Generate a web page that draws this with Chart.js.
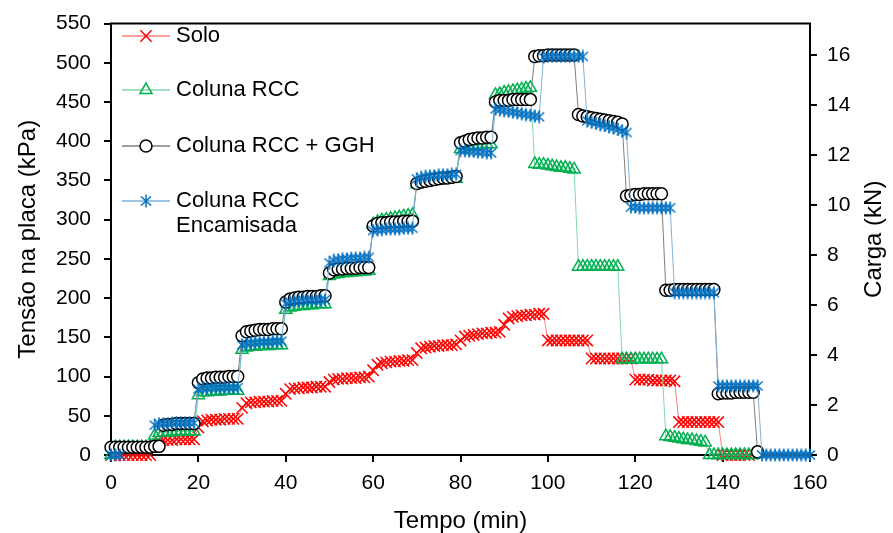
<!DOCTYPE html>
<html>
<head>
<meta charset="utf-8">
<title>Tensão na placa x Tempo</title>
<script src="https://cdn.jsdelivr.net/npm/chart.js@4.4.1/dist/chart.umd.min.js"></script>
<style>
  html, body { margin: 0; padding: 0; background: #fff; }
  canvas { display: block; }
</style>
</head>
<body>
<canvas id="chart" width="893" height="533"></canvas>
<script>
// time of each reading (min)
const minutes = [
  0, 1, 2, 3, 4, 5, 6, 7, 8, 9, 10, 11, 12, 13, 14, 15, 16, 17, 18, 19,
  20, 21, 22, 23, 24, 25, 26, 27, 28, 29, 30, 31, 32, 33, 34, 35, 36, 37, 38, 39,
  40, 41, 42, 43, 44, 45, 46, 47, 48, 49, 50, 51, 52, 53, 54, 55, 56, 57, 58, 59,
  60, 61, 62, 63, 64, 65, 66, 67, 68, 69, 70, 71, 72, 73, 74, 75, 76, 77, 78, 79,
  80, 81, 82, 83, 84, 85, 86, 87, 88, 89, 90, 91, 92, 93, 94, 95, 96, 97, 98, 99,
  100, 101, 102, 103, 104, 105, 106, 107, 108, 109, 110, 111, 112, 113, 114, 115, 116, 117, 118, 119,
  120, 121, 122, 123, 124, 125, 126, 127, 128, 129, 130, 131, 132, 133, 134, 135, 136, 137, 138, 139,
  140, 141, 142, 143, 144, 145, 146, 147, 148, 149, 150, 151, 152, 153, 154, 155, 156, 157, 158, 159,
  160
];

// plate stress (kPa), one value per minute starting at t = 0
const solo = [
  0, 0, 0, 0, 0, 0, 0, 0, 0, 0,
  12, 18, 19, 19, 19, 20, 20, 20, 20, 20,
  35, 43, 44, 45, 45, 45, 46, 46, 46, 46,
  60, 66, 67, 67, 68, 68, 68, 69, 69, 69,
  78, 84, 85, 85, 86, 86, 86, 87, 87, 87,
  93, 96, 97, 97, 98, 98, 98, 99, 99, 100,
  108, 115, 117, 118, 119, 119, 120, 120, 121, 121,
  130, 136, 137, 138, 139, 139, 140, 140, 140, 141,
  146, 151, 152, 153, 154, 155, 155, 156, 156, 157,
  166, 174, 176, 177, 178, 178, 179, 179, 180, 180,
  146, 146, 146, 146, 146, 146, 146, 146, 146, 146,
  123, 123, 123, 123, 123, 123, 123, 123, 123, 123,
  96, 96, 96, 96, 95, 95, 95, 95, 95, 94,
  42, 42, 42, 42, 42, 42, 42, 42, 42, 42,
  0, 0, 0, 0, 0, 0, 0
];

const colunaRcc = [
  0, 10, 10, 10, 10, 10, 10, 10, 10, 10,
  25, 28, 29, 29, 29, 30, 30, 30, 30, 30,
  76, 80, 80, 81, 81, 81, 82, 82, 82, 82,
  134, 137, 138, 138, 139, 139, 139, 140, 140, 140,
  185, 188, 189, 190, 190, 191, 191, 192, 192, 192,
  228, 230, 231, 232, 232, 233, 233, 234, 234, 235,
  294, 297, 299, 300, 301, 302, 303, 304, 305, 306,
  345, 347, 348, 349, 350, 350, 351, 351, 352, 352,
  390, 392, 393, 394, 395, 395, 396, 396,
  459, 460, 462, 463, 464, 465, 466, 467, 468,
  371, 370, 370, 369, 368, 367, 366, 366, 365, 364,
  240, 240, 240, 240, 240, 240, 240, 240, 240, 240,
  122, 122, 122, 122, 122, 122, 122, 122, 122, 122,
  24, 23, 22, 21, 20, 19, 19, 18, 17, 16,
  0, 0, 0, 0, 0, 0, 0, 0, 0, 0, 0
];

const colunaGgh = [
  10, 10, 10, 10, 10, 10, 10, 10, 10, 10, 11, 11,
  38, 39, 39, 40, 40, 40, 40, 40,
  92, 97, 98, 98, 99, 99, 99, 100, 100, 100,
  152, 157, 158, 159, 160, 160, 160, 161, 161, 161,
  195, 199, 200, 201, 201, 202, 202, 202, 203, 203,
  232, 236, 237, 237, 238, 238, 238, 239, 239, 239,
  292, 295, 296, 296, 297, 297, 297, 298, 298, 298,
  346, 348, 349, 350, 351, 352, 353, 353, 354, 355,
  398, 400, 402, 403, 404, 404, 405, 405,
  450, 452, 452, 452, 453, 453, 453, 453, 453,
  508, 509, 509, 510, 510, 510, 510, 510, 510, 510,
  434, 432, 431, 430, 429, 428, 427, 426, 425, 424, 422,
  330, 331, 332, 332, 333, 333, 333, 333, 333,
  210, 210, 211, 211, 211, 211, 211, 211, 211, 211, 211, 211,
  78, 79, 79, 79, 80, 80, 80, 80, 80,
  4
];

// no readings logged between 3 and 9 min
const colunaEncamisada = [
  0, 0, 0, null, null, null, null, null, null, null,
  38, 40, 40, 40, 41, 41, 41, 41, 41, 41,
  84, 85, 85, 86, 86, 86, 86, 86, 86, 86,
  140, 142, 143, 143, 144, 144, 144, 145, 145, 145,
  193, 195, 196, 196, 197, 197, 197, 197, 198, 198,
  245, 248, 249, 250, 250, 251, 251, 251, 252, 252,
  286, 287, 287, 288, 288, 288, 288, 289, 289, 289,
  352, 354, 355, 356, 356, 357, 357, 357, 358, 358,
  388, 388, 387, 387, 386, 386, 385, 385,
  441, 440, 439, 438, 437, 436, 435, 434, 433, 432, 431,
  507, 508, 508, 508, 508, 508, 508, 508, 508, 508,
  426, 424, 423, 421, 420, 418, 417, 415, 413, 411,
  316, 316, 315, 315, 315, 315, 315, 315, 315, 315,
  207, 207, 207, 207, 207, 207, 207, 207, 207, 207,
  88, 88, 88, 88, 88, 88, 88, 88, 88, 88,
  0, 0, 0, 0, 0, 0, 0, 0, 0, 0, 0, 0
];

const xTicks = [0, 20, 40, 60, 80, 100, 120, 140, 160];
const stressTicks = [0, 50, 100, 150, 200, 250, 300, 350, 400, 450, 500, 550];
const loadTicks = [0, 2, 4, 6, 8, 10, 12, 14, 16];

// 0.20 m diameter plate: kN = kPa * area
const plateArea = Math.PI * 0.1 * 0.1;

const FONT = '"Liberation Sans", Arial, sans-serif';

function toPoints(values) {
  return values.map((v, i) => ({ x: minutes[i], y: v }));
}

// excel-like "*" marker: an x with a vertical bar
function asteriskMarker(color) {
  const c = document.createElement('canvas');
  c.width = 14; c.height = 14;
  const g = c.getContext('2d');
  g.strokeStyle = color;
  g.lineWidth = 1.5;
  g.beginPath();
  g.moveTo(2, 2.5); g.lineTo(12, 11.5);
  g.moveTo(12, 2.5); g.lineTo(2, 11.5);
  g.moveTo(7, 0.5); g.lineTo(7, 13.5);
  g.stroke();
  return c;
}

const legendY = [36, 90, 146, 201];

const framePlugin = {
  id: 'frame',
  beforeDatasetsDraw(chart) {
    const a = chart.chartArea, ctx = chart.ctx;
    ctx.save();
    ctx.strokeStyle = '#000';
    ctx.lineWidth = 2;
    ctx.strokeRect(a.left, a.top, a.right - a.left, a.bottom - a.top);
    ctx.restore();
  },
  afterDraw(chart) {
    const ctx = chart.ctx;
    // legend inside the plot
    chart.data.datasets.forEach((ds, i) => {
      const y = legendY[i];
      ctx.save();
      ctx.strokeStyle = ds.borderColor;
      ctx.lineWidth = 1.5;
      ctx.beginPath();
      ctx.moveTo(122, y);
      ctx.lineTo(170, y);
      ctx.stroke();
      ctx.strokeStyle = ds.pointBorderColor;
      ctx.fillStyle = ds.pointBackgroundColor;
      ctx.lineWidth = ds.pointBorderWidth;
      Chart.helpers.drawPoint(ctx, {
        pointStyle: ds.pointStyle, radius: ds.pointRadius, rotation: 0, borderWidth: ds.pointBorderWidth
      }, 146, y);
      ctx.fillStyle = '#000';
      ctx.font = '22px ' + FONT;
      ctx.textBaseline = 'middle';
      ctx.textAlign = 'left';
      ds.label.split('\n').forEach((line, k) => ctx.fillText(line, 176, y + k * 25));
      ctx.restore();
    });
    // right axis title reads bottom to top, like the left one
    const r = chart.scales.y2;
    ctx.save();
    ctx.translate(874, (r.top + r.bottom) / 2);
    ctx.rotate(-Math.PI / 2);
    ctx.fillStyle = '#000';
    ctx.font = '24px ' + FONT;
    ctx.textAlign = 'center';
    ctx.textBaseline = 'middle';
    ctx.fillText('Carga (kN)', 0, 0);
    ctx.restore();
  }
};

const tickGrid = {
  display: true,
  drawOnChartArea: false,
  drawTicks: true,
  tickLength: 7,
  lineWidth: 2,
  color: '#000'
};

new Chart(document.getElementById('chart'), {
  type: 'line',
  data: {
    datasets: [
      {
        label: 'Solo',
        data: toPoints(solo),
        borderColor: '#FF8080',
        borderWidth: 1,
        pointStyle: 'crossRot',
        pointRadius: 8,
        pointBorderWidth: 1.5,
        pointBorderColor: '#FF0000',
        pointBackgroundColor: '#FF0000',
        order: 4
      },
      {
        label: 'Coluna RCC',
        data: toPoints(colunaRcc),
        borderColor: '#80D8A8',
        borderWidth: 1,
        pointStyle: 'triangle',
        pointRadius: 7,
        pointBorderWidth: 1.5,
        pointBorderColor: '#00B050',
        pointBackgroundColor: 'rgba(0,0,0,0)',
        order: 3
      },
      {
        label: 'Coluna RCC + GGH',
        data: toPoints(colunaGgh),
        borderColor: '#808080',
        borderWidth: 1,
        pointStyle: 'circle',
        pointRadius: 6,
        pointBorderWidth: 1.5,
        pointBorderColor: '#000000',
        pointBackgroundColor: '#FFFFFF',
        order: 2
      },
      {
        label: 'Coluna RCC\nEncamisada',
        data: toPoints(colunaEncamisada),
        borderColor: '#7FB2DD',
        borderWidth: 1,
        pointStyle: asteriskMarker('#0070C0'),
        pointRadius: 7,
        pointBorderWidth: 1.5,
        pointBorderColor: '#0070C0',
        pointBackgroundColor: '#0070C0',
        order: 1
      }
    ]
  },
  options: {
    responsive: false,
    animation: false,
    devicePixelRatio: 1,
    clip: false,
    layout: { padding: { top: 22, left: 0, right: 0, bottom: 0 } },
    plugins: { legend: { display: false }, tooltip: { enabled: false } },
    elements: { line: { tension: 0 } },
    scales: {
      x: {
        type: 'linear',
        min: 0,
        max: 160,
        afterBuildTicks: s => { s.ticks = xTicks.map(v => ({ value: v })); },
        afterFit: s => { s.height = 78; },
        ticks: { font: { family: FONT, size: 21 }, color: '#000', padding: 9, maxRotation: 0 },
        grid: tickGrid,
        border: { display: true, color: '#000', width: 2 },
        title: { display: true, text: 'Tempo (min)', font: { family: FONT, size: 24, lineHeight: 1 }, color: '#000', padding: { top: 0, bottom: 0 } }
      },
      y: {
        position: 'left',
        min: 0,
        max: 550,
        afterBuildTicks: s => { s.ticks = stressTicks.map(v => ({ value: v })); },
        afterFit: s => { s.width = 111; },
        ticks: { font: { family: FONT, size: 21, lineHeight: 1 }, color: '#000', padding: 13 },
        grid: tickGrid,
        border: { display: true, color: '#000', width: 2 },
        title: { display: true, text: 'Tensão na placa (kPa)', font: { family: FONT, size: 24 }, color: '#000', padding: { top: 14, bottom: 0 } }
      },
      y2: {
        position: 'right',
        min: 0,
        max: 550 * plateArea,
        afterBuildTicks: s => { s.ticks = loadTicks.map(v => ({ value: v })); },
        afterFit: s => { s.width = 83; },
        ticks: { font: { family: FONT, size: 21, lineHeight: 1 }, color: '#000', padding: 10 },
        grid: tickGrid,
        border: { display: true, color: '#000', width: 2 }
      }
    }
  },
  plugins: [framePlugin]
});
</script>
</body>
</html>
